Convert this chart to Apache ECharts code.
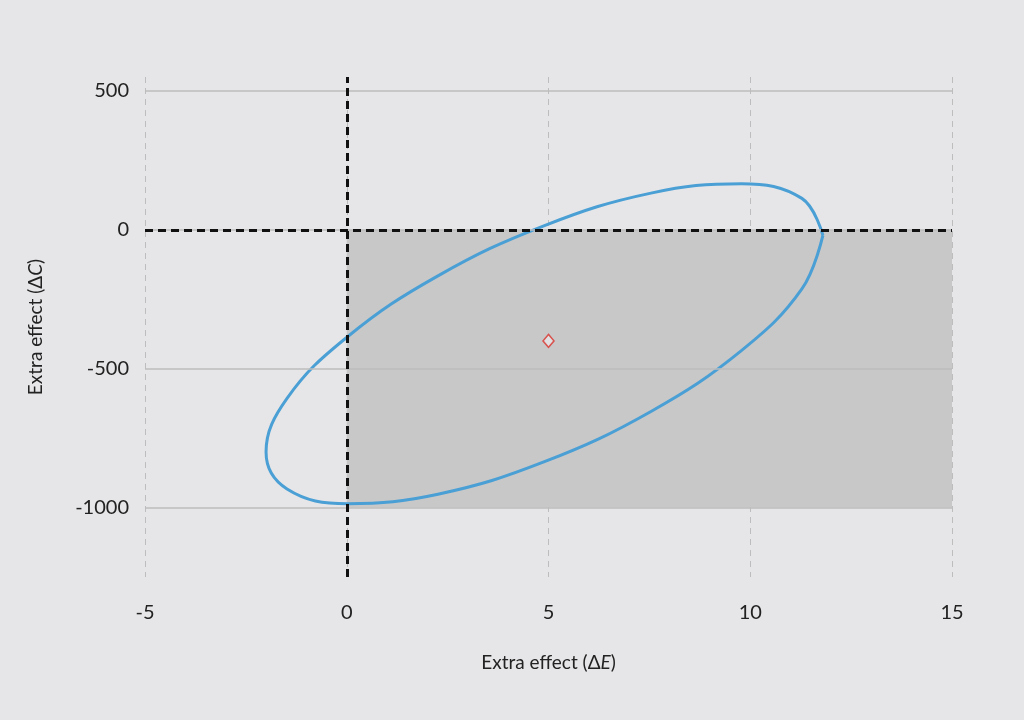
<!DOCTYPE html><html><head><meta charset="utf-8">
<script src="https://cdn.jsdelivr.net/npm/echarts@6/dist/echarts.min.js"></script>
<style>html,body{margin:0;background:#e6e6e8}#c{width:1024px;height:720px}</style></head><body><div id="c"></div>
<script>
const ellipseX=[11.8,11.28,9.78,7.54,4.9,2.26,0.02,-1.48,-2.0,-1.48,0.02,2.26,4.9,7.54,9.78,11.28,11.8];
const ellipseY=[-20,113,166,132,15,-166,-385,-607,-800,-933,-986,-952,-835,-654,-435,-213,-20];
const centerPoint=[5,-400];
const xTicks=[-5,0,5,10,15];
const yTicks=[500,0,-500,-1000];
const F='Lato, "Noto Sans", sans-serif';
const chart=echarts.init(document.getElementById('c'));
chart.setOption({
 backgroundColor:'#e6e6e8',
 grid:{left:145,right:72,top:77,bottom:143},
 xAxis:{type:'value',min:-5,max:15,interval:5,
  axisLine:{show:false},axisTick:{show:false},
  axisLabel:{color:'#222',fontSize:20,fontFamily:F,margin:26},
  splitLine:{lineStyle:{type:[6,5],color:'#bdbdbd',width:1}},
  name:'{a|Extra effect (Δ}{i|E}{a|)}',nameLocation:'middle',nameGap:76,
  nameTextStyle:{rich:{a:{fontSize:19,color:'#222',fontFamily:F},i:{fontSize:19,color:'#222',fontFamily:F,fontStyle:'italic'}}}},
 yAxis:{type:'value',min:-1250,max:550,
  axisLine:{show:false},axisTick:{show:false},
  axisLabel:{color:'#222',fontSize:20,fontFamily:F,margin:16,
   customValues:yTicks,formatter:v=>String(v)},
  splitLine:{show:false},
  name:'{a|Extra effect (Δ}{i|C}{a|)}',nameLocation:'middle',nameGap:100,nameRotate:90,
  nameTextStyle:{rich:{a:{fontSize:19,color:'#222',fontFamily:F},i:{fontSize:19,color:'#222',fontFamily:F,fontStyle:'italic'}}}},
 series:[
  {type:'line',data:[],silent:true,
   markArea:{silent:true,itemStyle:{color:'#c8c8c9'},data:[[{coord:[0,0]},{coord:[15,-1000]}]]},
   markLine:{silent:true,symbol:'none',label:{show:false},
    data:yTicks.map(v=>({yAxis:v,lineStyle:{type:'solid',color:'#bdbdbd',width:1.5}})).concat([
     {xAxis:0,lineStyle:{type:[8,5],color:'#111',width:3}},
     [{coord:[-5,0],lineStyle:{type:[8,5],color:'#111',width:3}},{coord:[15,0]}]
    ])}},
  {type:'line',data:ellipseX.map((x,i)=>[x,ellipseY[i]]),smooth:0.4,showSymbol:false,
   lineStyle:{color:'#4a9fd5',width:3}},
  {type:'scatter',data:[centerPoint],symbol:'diamond',symbolSize:[11,13],
   itemStyle:{color:'#e6e6e8',borderColor:'#d9312b',borderWidth:1.5}}
 ]
});
</script></body></html>
